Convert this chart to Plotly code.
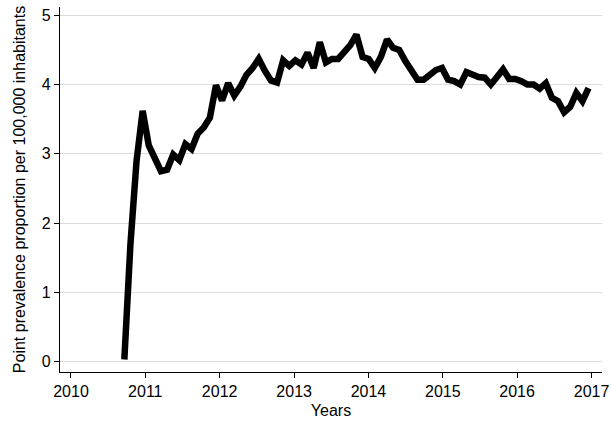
import pandas as pd
import plotly.graph_objects as go

# Series: point prevalence proportion per 100,000 inhabitants (one value every 30 days)
start_date = "2010-09-20"
period = "30D"
prevalence = [
    0.03, 1.70, 2.90, 3.62, 3.12, 2.95, 2.75, 2.77, 2.99, 2.91,
    3.14, 3.07, 3.29, 3.38, 3.52, 3.99, 3.77, 4.02, 3.84, 3.97,
    4.14, 4.24, 4.37, 4.20, 4.06, 4.03, 4.35, 4.27, 4.35, 4.29,
    4.46, 4.24, 4.61, 4.32, 4.37, 4.37, 4.47, 4.57, 4.72, 4.40,
    4.37, 4.24, 4.40, 4.65, 4.53, 4.50, 4.34, 4.22, 4.07, 4.07,
    4.14, 4.21, 4.24, 4.07, 4.05, 4.00, 4.18, 4.14, 4.11, 4.10,
    4.00, 4.11, 4.22, 4.08, 4.08, 4.05, 4.00, 4.00, 3.94, 4.02,
    3.81, 3.76, 3.60, 3.68, 3.88, 3.76, 3.95,
]
dates = pd.date_range(start=start_date, periods=len(prevalence), freq=period)

x_tick_years = ["2010", "2011", "2012", "2013", "2014", "2015", "2016", "2017"]
y_ticks = [0, 1, 2, 3, 4, 5]

font_family = "Liberation Sans, Arial, Helvetica, sans-serif"

fig = go.Figure()
fig.add_trace(go.Scatter(
    x=dates, y=prevalence, mode="lines",
    line=dict(color="black", width=6.5),
    hoverinfo="skip", showlegend=False,
))

fig.update_layout(
    width=611, height=423,
    margin=dict(l=60, r=9, t=7, b=51),
    paper_bgcolor="white", plot_bgcolor="white",
    font=dict(family=font_family, size=16, color="black"),
    showlegend=False,
)
fig.update_xaxes(
    type="date",
    range=["2009-11-08", "2017-02-21"],
    tickmode="array",
    tickvals=[f"{y}-01-01" for y in x_tick_years],
    ticktext=x_tick_years,
    ticks="outside", ticklen=5, tickwidth=1.2, tickcolor="black",
    showline=True, linecolor="black", linewidth=1.3,
    showgrid=False, zeroline=False,
    automargin=False,
    title=dict(text="Years", standoff=5, font=dict(size=16)),
    tickfont=dict(size=16),
)
fig.update_yaxes(
    range=[-0.15, 5.12],
    tickmode="array", tickvals=y_ticks,
    ticks="outside", ticklen=5, tickwidth=1.2, tickcolor="black",
    showline=True, linecolor="black", linewidth=1.3,
    showgrid=True, gridcolor="#dcdcdc", gridwidth=1.2,
    zeroline=False,
    automargin=False,
    title=dict(text="Point prevalence proportion per 100,000 inhabitants", standoff=12, font=dict(size=16)),
    tickfont=dict(size=16),
)

fig.write_html(
    "out.html",
    config={"displayModeBar": False},
    post_script="document.body.style.margin='0';document.body.style.padding='0';",
)
